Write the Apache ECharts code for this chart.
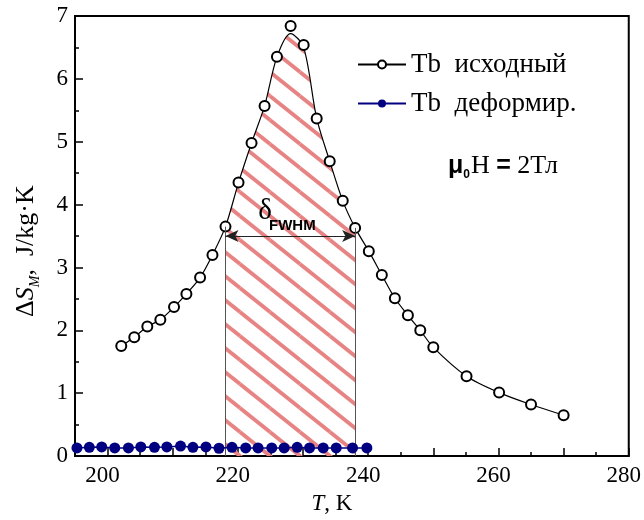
<!DOCTYPE html>
<html><head><meta charset="utf-8">
<script src="https://cdn.jsdelivr.net/npm/echarts@6/dist/echarts.min.js"></script>
<style>html,body{margin:0;padding:0;background:#fff}#c{width:644px;height:520px}</style>
</head><body><div id="c"></div>
<script>
// Tb исходный: measured points
const tbT = [202.1,204.1,206.1,208.1,210.2,212.1,214.2,216.1,218.1,220.1,222.1,224.1,226.0,228.1,230.1,232.1,234.1,236.1,238.0,240.1,242.1,244.1,246.1,248.0,250.0,255.1,260.1,265.0,270.0];
const tbS = [1.75,1.89,2.06,2.17,2.37,2.58,2.84,3.20,3.65,4.35,4.98,5.57,6.35,6.84,6.54,5.37,4.69,4.06,3.63,3.26,2.88,2.51,2.24,2.00,1.73,1.27,1.01,0.82,0.65];
// fitted curve (differs near the peak)
const fitS = [1.75,1.89,2.06,2.17,2.37,2.58,2.84,3.20,3.65,4.35,4.98,5.57,6.35,6.72,6.50,5.37,4.69,4.06,3.63,3.26,2.88,2.51,2.24,2.00,1.73,1.27,1.01,0.82,0.65];
// Tb деформир.
const defT = [195.3,197.2,199.1,201.1,203.2,205.1,207.2,209.1,211.2,213.1,215.1,217.1,219.1,221.2,223.1,225.2,227.1,229.1,231.0,233.1,235.1,237.6,239.8];
const defS = [0.13,0.14,0.145,0.13,0.13,0.145,0.14,0.145,0.16,0.14,0.145,0.125,0.14,0.13,0.13,0.13,0.13,0.14,0.13,0.13,0.13,0.13,0.13];
// FWHM region
const fwhmT = [218.0, 238.0];
const halfMax = 3.5;
const xTickLabels = [200,220,240,260,280];

const SERIF = '"Liberation Serif","Times New Roman",serif';
const SANS = '"Liberation Sans",Arial,sans-serif';

function hatchCanvas(){
  const w=30,h=24;
  const c=document.createElement('canvas'); c.width=w; c.height=h;
  const g=c.getContext('2d');
  g.strokeStyle='#e88384'; g.lineWidth=3.8;
  for (const [ox,oy] of [[0,0],[-w,0],[w,0],[0,-h],[0,h]]) {
    g.beginPath(); g.moveTo(ox,oy); g.lineTo(ox+w,oy+h); g.stroke();
  }
  return c;
}

const tbPts = tbT.map((t,i)=>[t,tbS[i]]);
const fitPts = tbT.map((t,i)=>[t,fitS[i]]);
const defPts = defT.map((t,i)=>[t,defS[i]]);
const fillPts = fitPts.filter(p=>p[0]>=fwhmT[0]-0.2 && p[0]<=fwhmT[1]+0.2);
const yL = fillPts[0][1], yR = fillPts[fillPts.length-1][1];
const SMOOTH = 0.3;

const chart = echarts.init(document.getElementById('c'), null, {renderer:'canvas'});
const axisCommon = {
  axisLine:{show:true, lineStyle:{color:'#000', width:2}},
  axisTick:{show:true, inside:true, length:8, lineStyle:{color:'#000', width:1.5}},
  minorTick:{show:true, splitNumber:2, length:4, lineStyle:{color:'#000', width:1.5}},
  splitLine:{show:false}, minorSplitLine:{show:false}
};
chart.setOption({
  animation:false,
  backgroundColor:'#fff',
  grid:{left:75, right:15, top:16, bottom:57, show:true, borderColor:'#000', borderWidth:2, backgroundColor:'transparent'},
  legend:{
    orient:'vertical', left:352, top:46, itemWidth:48, itemHeight:10, itemGap:12,
    textStyle:{fontFamily:SERIF, fontSize:27, color:'#000'},
    data:['Tb  исходный','Tb  деформир.']
  },
  xAxis:Object.assign({
    type:'value', min:195, max:280, splitNumber:8,
    axisLabel:{fontFamily:SERIF, fontSize:23, color:'#000', margin:8, padding:[0,10,0,0],
      formatter:v=> xTickLabels.includes(v) ? String(v) : ''},
    name:'{i|T}{n|, K}', nameLocation:'middle', nameGap:34,
    nameTextStyle:{padding:[0,40,0,0], rich:{
      i:{fontFamily:SERIF, fontSize:23, fontStyle:'italic', color:'#000'},
      n:{fontFamily:SERIF, fontSize:23, color:'#000'}}}
  }, axisCommon),
  yAxis:Object.assign({
    type:'value', min:0, max:7, interval:1,
    axisLabel:{fontFamily:SERIF, fontSize:23, color:'#000', margin:7},
    name:'{n|Δ}{i|S}{s|M}{n|,  J/kg·K}', nameLocation:'middle', nameGap:36, nameRotate:90,
    nameTextStyle:{padding:[0,30,0,0], rich:{
      i:{fontFamily:SERIF, fontSize:26, fontStyle:'italic', color:'#000', lineHeight:30, verticalAlign:'bottom'},
      s:{fontFamily:SERIF, fontSize:14, fontStyle:'italic', color:'#000', lineHeight:30, verticalAlign:'bottom', padding:[0,0,-3,0]},
      n:{fontFamily:SERIF, fontSize:26, color:'#000', lineHeight:30, verticalAlign:'bottom'}}}
  }, axisCommon),
  series:[
    {
      name:'fwhm', type:'line', data:fillPts, smooth:SMOOTH, symbol:'none', z:1,
      lineStyle:{width:0}, areaStyle:{color:{image:hatchCanvas(), repeat:'repeat'}, opacity:1, origin:'start'},
      silent:true,
      markLine:{
        silent:true, symbol:'none', animation:false,
        label:{show:false},
        lineStyle:{color:'#555', width:1, type:'solid'},
        data:[
          [{coord:[fillPts[0][0],0]},{coord:[fillPts[0][0],yL]}],
          [{coord:[fillPts[fillPts.length-1][0],0]},{coord:[fillPts[fillPts.length-1][0],yR]}],
          [{coord:[fillPts[0][0],halfMax], symbol:'arrow', symbolSize:[9,13]},
           {coord:[fillPts[fillPts.length-1][0],halfMax], symbol:'arrow', symbolSize:[9,13], lineStyle:{color:'#222'}}]
        ]
      }
    },
    {
      name:'Tb  исходный', type:'line', data:fitPts, smooth:SMOOTH,
      symbol:'emptyCircle', showSymbol:false, z:3,
      lineStyle:{color:'#000', width:1.2}, itemStyle:{color:'#000'}
    },
    {
      name:'pts', type:'scatter', data:tbPts, symbol:'circle', symbolSize:10, z:4,
      itemStyle:{color:'#fff', borderColor:'#000', borderWidth:2, opacity:1}
    },
    {
      name:'Tb  деформир.', type:'line', data:defPts, symbol:'circle', symbolSize:11, z:5,
      lineStyle:{color:'#000080', width:1.5}, itemStyle:{color:'#000080'}
    }
  ],
  graphic:[
    {type:'text', x:265, y:211, z:10, style:{text:'δ', fontFamily:SERIF, fontSize:29, fill:'#000', align:'center', verticalAlign:'middle', textAlign:'center', textVerticalAlign:'middle'}},
    {type:'text', x:269, y:226, z:10, style:{text:'FWHM', fontFamily:SANS, fontWeight:'bold', fontSize:15, fill:'#000', align:'left', verticalAlign:'middle', textAlign:'left', textVerticalAlign:'middle'}},
    {type:'text', x:448, y:164, z:10, style:{
      text:'{mu|μ}{sub|0}{n|H }{eq|=}{n| 2Тл}', verticalAlign:'middle', textVerticalAlign:'middle',
      rich:{
        mu:{fontFamily:SANS, fontWeight:'bold', fontSize:25, fill:'#000', lineHeight:30, verticalAlign:'bottom'},
        sub:{fontFamily:SANS, fontWeight:'bold', fontSize:12, fill:'#000', lineHeight:30, verticalAlign:'bottom', padding:[0,1,-2,0]},
        n:{fontFamily:SERIF, fontSize:26, fill:'#000', lineHeight:30, verticalAlign:'bottom'},
        eq:{fontFamily:SANS, fontWeight:'bold', fontSize:25, fill:'#000', lineHeight:30, verticalAlign:'bottom'}
      }}}
  ]
});
</script></body></html>
